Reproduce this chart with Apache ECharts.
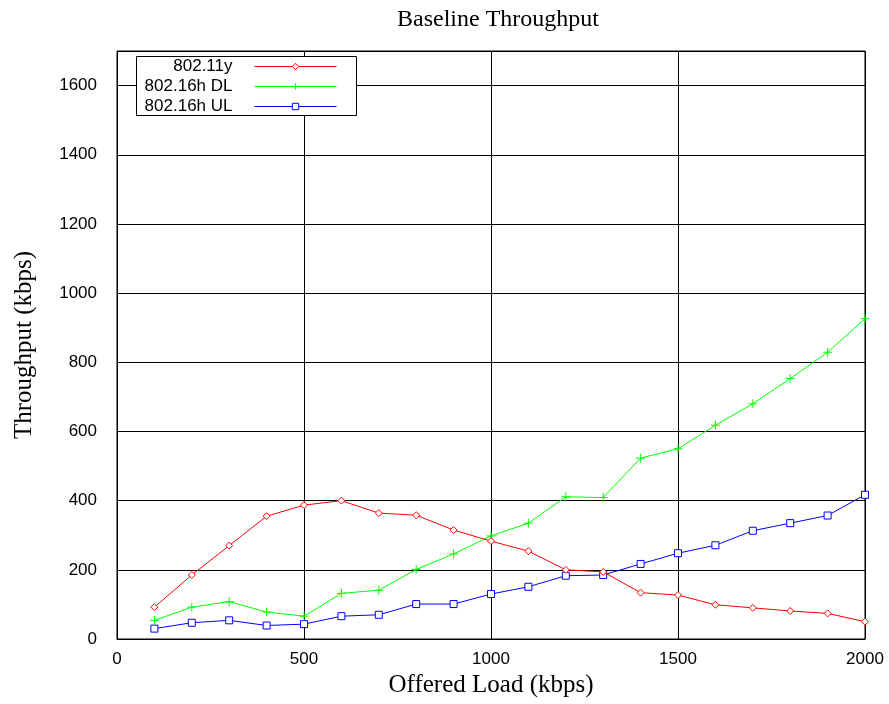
<!DOCTYPE html>
<html><head><meta charset="utf-8">
<script src="https://cdn.jsdelivr.net/npm/echarts@6/dist/echarts.min.js"></script>
<style>html,body{margin:0;padding:0;background:#fff}#c{width:889px;height:704px}</style>
</head><body><div id="c"></div>
<script>
const offeredLoad = [100,200,300,400,500,600,700,800,900,1000,1100,1200,1300,1400,1500,1600,1700,1800,1900,2000];
const wifi11y = [92,185,270,355,387,400,364,358,315,283,254,200,194,134,127,99,90,81,74,50];
const wimaxDL = [54,92,108,78,66,132,141,201,246,298,335,411,409,523,550,618,680,753,829,926];
const wimaxUL = [30,47,54,39,43,66,70,101,101,130,151,183,185,217,248,271,313,335,357,417];
const seriesNames = ['802.11y','802.16h DL','802.16h UL'];
const colors = ['#ff0000','#00ff00','#0000ff'];
const symbols = ['diamond','path://M0,5L10,5M5,0L5,10','rect'];
const values = [wifi11y, wimaxDL, wimaxUL];

const chart = echarts.init(document.getElementById('c'));
const sans = 'Liberation Sans';
const serif = 'Liberation Serif';
const series = seriesNames.map((n,i)=>({
  name:n, type:'line',
  data: offeredLoad.map((x,j)=>[x, values[i][j]]),
  symbol: symbols[i], symbolSize: i===1?9:7, showSymbol:true,
  lineStyle:{color:colors[i], width:1},
  itemStyle:{color: i===1?'none':'#fff', borderColor:colors[i], borderWidth:1},
  emphasis:{disabled:true}, animation:false, z: 5-i
}));
const legendCenters = [66, 86, 106];
const legends = seriesNames.map((n,i)=>({
  data:[n], right: 889-337, top: legendCenters[i]-8, align:'right', orient:'vertical',
  itemWidth: 82, itemHeight: 8, itemGap: 0, padding:0, z: 10,
  lineStyle:{width:1}, itemStyle:{borderWidth:1},
  textStyle:{fontFamily:sans, fontSize:17, color:'#000', padding:[0,17,0,0]},
  selectedMode:false
}));
chart.setOption({
  animation:false,
  title:{text:'Baseline Throughput', left:493, top:3, textAlign:'center',
    textStyle:{fontFamily:serif, fontSize:24, fontWeight:'normal', color:'#000'}},
  legend: legends,
  graphic:[{type:'rect', shape:{x:136.5,y:56.5,width:220,height:59},
    style:{fill:'#fff', stroke:'#000', lineWidth:1}, z:1}],
  grid:{left:117, right:24, top:51, bottom:65, show:true, borderColor:'#000', borderWidth:1},
  xAxis:{type:'value', min:0, max:2000, interval:500,
    name:'Offered Load (kbps)', nameLocation:'middle', nameGap:34,
    nameTextStyle:{fontFamily:serif, fontSize:25, color:'#000'},
    axisLine:{lineStyle:{color:'#000'}}, axisTick:{show:false},
    axisLabel:{fontFamily:sans, fontSize:17, color:'#000', margin:12, formatter:v=>String(v)},
    splitLine:{show:true, lineStyle:{color:'#000', width:1}}},
  yAxis:{type:'value', min:0, max:1700, interval:200,
    name:'Throughput (kbps)', nameLocation:'middle', nameGap:80,
    nameTextStyle:{fontFamily:serif, fontSize:25, color:'#000', padding:[0,0,0,0]},
    axisLine:{lineStyle:{color:'#000'}}, axisTick:{show:false},
    axisLabel:{fontFamily:sans, fontSize:17, color:'#000', margin:20, showMaxLabel:false, formatter:v=>String(v)},
    splitLine:{show:true, lineStyle:{color:'#000', width:1}}},
  series: series
});
</script></body></html>
